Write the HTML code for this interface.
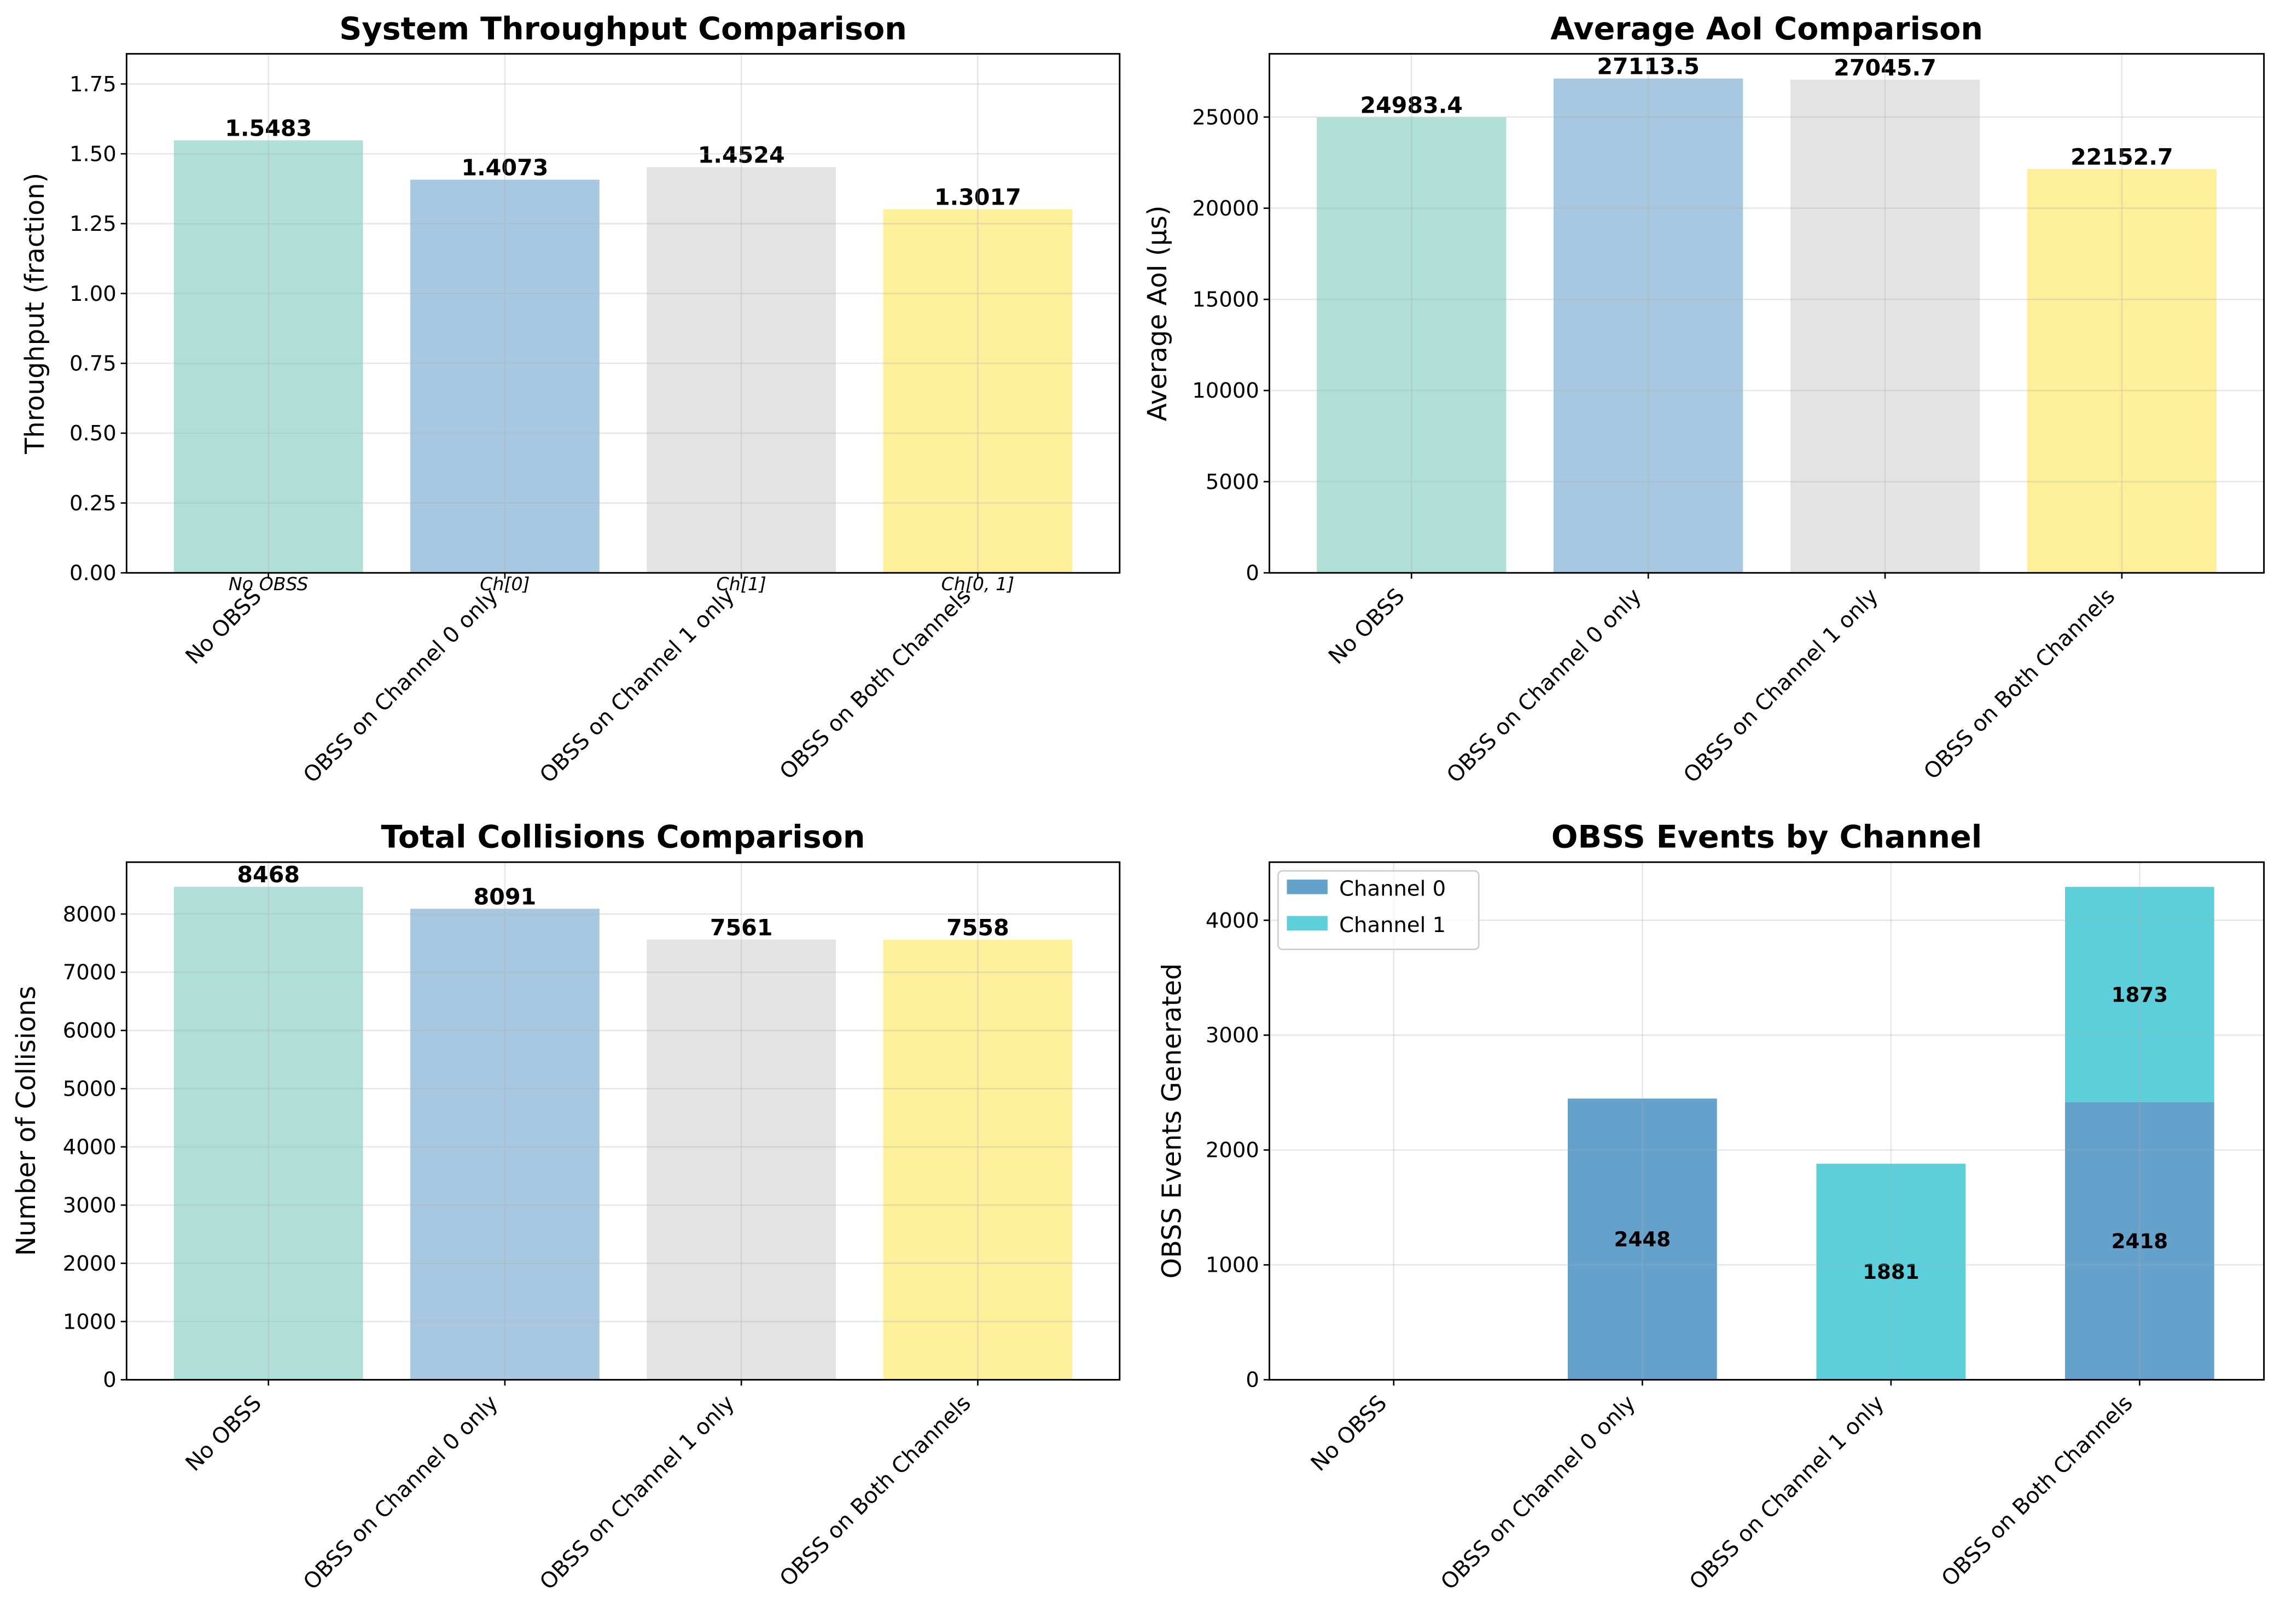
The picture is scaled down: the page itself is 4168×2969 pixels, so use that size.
<!DOCTYPE html>
<html><head><meta charset="utf-8"><style>
html,body{margin:0;padding:0;background:#fff}
svg{display:block;font-family:"DejaVu Sans","Liberation Sans",sans-serif}
</style></head><body>
<svg id="c" xmlns="http://www.w3.org/2000/svg" width="4168" height="2969" viewBox="0 0 1568 1117">
<rect width="1568" height="1117" fill="#fff"/>
</svg>
<script>
const categories = ["No OBSS","OBSS on Channel 0 only","OBSS on Channel 1 only","OBSS on Both Channels"];
const shortLabels = ["No OBSS","Ch[0]","Ch[1]","Ch[0, 1]"];
const throughput = [1.5483,1.4073,1.4524,1.3017];
const throughputLabels = ["1.5483","1.4073","1.4524","1.3017"];
const aoi = [24983.4,27113.5,27045.7,22152.7];
const aoiLabels = ["24983.4","27113.5","27045.7","22152.7"];
const collisions = [8468,8091,7561,7558];
const ch0Events = [0,2448,0,2418];
const ch1Events = [0,0,1881,1873];
const tpTicks = [0,0.25,0.5,0.75,1.0,1.25,1.5,1.75];
const aoiTicks = [0,5000,10000,15000,20000,25000];
const colTicks = [0,1000,2000,3000,4000,5000,6000,7000,8000];
const evTicks = [0,1000,2000,3000,4000];
const barColors = ["#b0dfd7","#a7c8e0","#e3e3e3","#fef09a"];

const NS="http://www.w3.org/2000/svg";
const svg=document.getElementById('c');
function el(tag,attrs,parent,text){const e=document.createElementNS(NS,tag);for(const k in attrs)e.setAttribute(k,attrs[k]);if(text!==undefined)e.textContent=text;(parent||svg).appendChild(e);return e;}

function panel(o){
  const g=el('g',{});
  
  
  const {x0,x1,y0,y1,ymax,xmin,xmax}=o;
  const sx=v=>x0+(v-xmin)/(xmax-xmin)*(x1-x0);
  const sy=v=>y1-v/ymax*(y1-y0);
  o.draw(g,sx,sy);
  o.ticks.forEach(t=>{el('line',{x1:x0,x2:x1,y1:sy(t),y2:sy(t),stroke:'#b0b0b0','stroke-opacity':0.3,'stroke-width':1},g);});
  categories.forEach((c,i)=>{el('line',{x1:sx(i),x2:sx(i),y1:y0,y2:y1,stroke:'#b0b0b0','stroke-opacity':0.3,'stroke-width':1},g);});
  o.after&&o.after(g,sx,sy);
  el('rect',{x:x0,y:y0,width:x1-x0,height:y1-y0,fill:'none',stroke:'#000','stroke-width':1.1},g);
  o.ticks.forEach(t=>{const y=sy(t);el('line',{x1:x0-4,x2:x0,y1:y,y2:y,stroke:'#000'},g);
    const tl=el('text',{x:x0-7,y:y+5,'text-anchor':'end','font-size':14.5},g,o.fmt(t));
    });
  categories.forEach((c,i)=>{const x=sx(i);el('line',{x1:x,x2:x,y1:y1,y2:y1+4,stroke:'#000'},g);
    const lx=x-4, ly=y1+17;
    const t=el('text',{x:lx,y:ly,'text-anchor':'end','font-size':15,transform:`rotate(-45 ${lx} ${ly})`},g,c);
    });
  const tt=el('text',{x:(x0+x1)/2,y:y0-10,'text-anchor':'middle','font-size':21.5,'font-weight':'bold'},g,o.title);
  
  const yl=el('text',{x:o.ylx,y:(y0+y1)/2,'text-anchor':'middle','font-size':18,transform:`rotate(-90 ${o.ylx} ${(y0+y1)/2})`},g,o.ylabel);
  
}

function simpleBars(vals,labels,w){return (g,sx,sy)=>{vals.forEach((v,i)=>{
  const r=el('rect',{x:sx(i-w/2),y:sy(v),width:sx(w)-sx(0),height:sy(0)-sy(v),fill:barColors[i]},g);
  
  const t=el('text',{x:sx(i),y:sy(v)-3,'text-anchor':'middle','font-size':15.5,'font-weight':'bold'},g,labels[i]);
  });};}

panel({name:'throughput-panel',x0:87,x1:770,y0:37,y1:394,xmin:-0.6,xmax:3.6,ymax:1.858,ticks:tpTicks,fmt:t=>t.toFixed(2),
  title:'System Throughput Comparison',ylabel:'Throughput (fraction)',ylx:30,draw:simpleBars(throughput,throughputLabels,0.8),
  after:(g,sx,sy)=>{shortLabels.forEach((s,i)=>{const t=el('text',{x:sx(i),y:406,'text-anchor':'middle','font-size':12.5,'font-style':'italic'},g,s);
    });}});
panel({name:'aoi-panel',x0:873,x1:1557,y0:37,y1:394,xmin:-0.6,xmax:3.6,ymax:28469,ticks:aoiTicks,fmt:t=>String(t),
  title:'Average AoI Comparison',ylabel:'Average AoI (μs)',ylx:802,draw:simpleBars(aoi,aoiLabels,0.8)});
panel({name:'collisions-panel',x0:87,x1:770,y0:593,y1:949,xmin:-0.6,xmax:3.6,ymax:8891,ticks:colTicks,fmt:t=>String(t),
  title:'Total Collisions Comparison',ylabel:'Number of Collisions',ylx:24,draw:simpleBars(collisions,collisions.map(String),0.8)});
panel({name:'obss-events-panel',x0:873,x1:1557,y0:593,y1:949,xmin:-0.5,xmax:3.5,ymax:4506,ticks:evTicks,fmt:t=>String(t),
  title:'OBSS Events by Channel',ylabel:'OBSS Events Generated',ylx:812,
  draw:(g,sx,sy)=>{const w=0.6;categories.forEach((c,i)=>{
    const a=ch0Events[i],b=ch1Events[i];
    if(a>0){const r=el('rect',{x:sx(i-w/2),y:sy(a),width:sx(w)-sx(0),height:sy(0)-sy(a),fill:'#64a1cb'},g);
      
      const t=el('text',{x:sx(i),y:sy(a/2)+5,'text-anchor':'middle','font-size':14,'font-weight':'bold'},g,String(a));
      }
    if(b>0){const r=el('rect',{x:sx(i-w/2),y:sy(a+b),width:sx(w)-sx(0),height:sy(a)-sy(a+b),fill:'#5ccfda'},g);
      
      const t=el('text',{x:sx(i),y:sy(a+b/2)+5,'text-anchor':'middle','font-size':14,'font-weight':'bold'},g,String(b));
      }
  });},
  after:(g)=>{const L=el('g',{},g);
    el('rect',{x:879,y:599,width:138,height:54,rx:3,fill:'#fff','fill-opacity':0.8,stroke:'#ccc'},L);
    el('rect',{x:885,y:605,width:28,height:10,fill:'#64a1cb'},L);
    const t1=el('text',{x:921,y:616,'font-size':14.5},L,'Channel 0');
    el('rect',{x:885,y:630,width:28,height:10,fill:'#5ccfda'},L);
    const t2=el('text',{x:921,y:641,'font-size':14.5},L,'Channel 1');}});
</script>
</body></html>
